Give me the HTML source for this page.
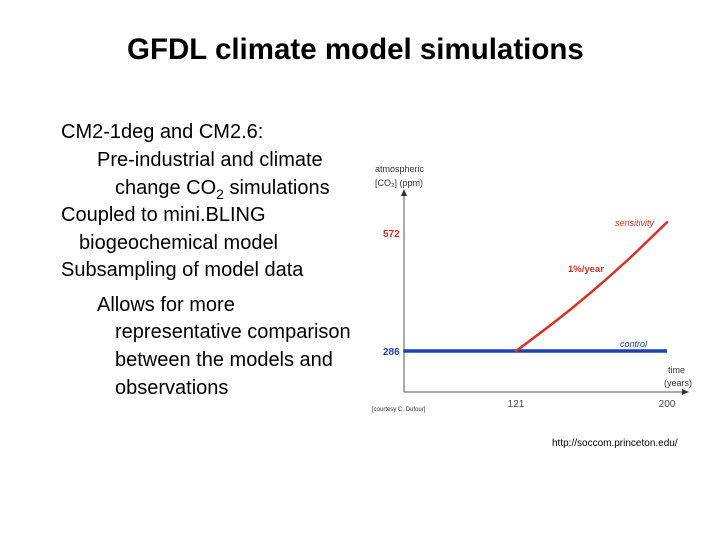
<!DOCTYPE html>
<html><head><meta charset="utf-8"><style>
body{margin:0;width:720px;height:540px;background:#fff;font-family:"Liberation Sans",Arial,sans-serif;position:relative;overflow:hidden}
.t{position:absolute;white-space:nowrap;color:#000}
.b{font-size:20px}
</style></head><body>
<div class="t" style="left:127px;top:33px;font-size:29.5px;font-weight:bold">GFDL climate model simulations</div>
<div>
<div class="t b" style="left:61px;top:121px">CM2-1deg and CM2.6:</div>
<div class="t b" style="left:97px;top:149px">Pre-industrial and climate</div>
<div class="t b" style="left:115px;top:177px">change CO<sub style="font-size:14px">2</sub> simulations</div>
<div class="t b" style="left:61px;top:204px">Coupled to mini.BLING</div>
<div class="t b" style="left:79px;top:232px">biogeochemical model</div>
<div class="t b" style="left:61px;top:259px">Subsampling of model data</div>
<div class="t b" style="left:97px;top:294px">Allows for more</div>
<div class="t b" style="left:115px;top:321px">representative comparison</div>
<div class="t b" style="left:115px;top:349px">between the models and</div>
<div class="t b" style="left:115px;top:377px">observations</div>
</div>
<div class="t" style="left:552px;top:438px;font-size:10px">http://soccom.princeton.edu/</div>
<svg id="chart" width="720" height="540" style="position:absolute;left:0;top:0" font-family="Liberation Sans, Arial, sans-serif"></svg>
<script>
const years=[121,140,160,180,200];
const sensVals=[286,352,427,509,598];
const ctrlYears=[62,200];
const ctrlVals=[286,286];
const xTicks=[121,200];
const yTicks=[286,572];
const x=t=>516+(t-121)*151/79;
const y=v=>351-(v-286)*118/286;
const svg=document.getElementById('chart');
const NS='http://www.w3.org/2000/svg';
function mk(tag,attrs,txt){const e=document.createElementNS(NS,tag);for(const k in attrs)e.setAttribute(k,attrs[k]);if(txt)e.textContent=txt;svg.appendChild(e);return e;}
let e;
e=mk('line',{x1:404,y1:392,x2:684,y2:392,stroke:'#555','stroke-width':1});


mk('polygon',{points:'689,392 682,389 682,395',fill:'#333'});
e=mk('line',{x1:404,y1:392,x2:404,y2:194,stroke:'#555','stroke-width':1});


mk('polygon',{points:'404,189 401,196 407,196',fill:'#333'});
e=mk('polyline',{points:ctrlYears.map((t,i)=>x(t)+','+y(ctrlVals[i])).join(' '),stroke:'#1f3fb5','stroke-width':3.5,fill:'none'});


const P=years.map((t,i)=>[x(t),y(sensVals[i])]);
let d='M'+P[0][0]+','+P[0][1];
for(let i=0;i<P.length-1;i++){
  const p0=P[Math.max(i-1,0)],p1=P[i],p2=P[i+1],p3=P[Math.min(i+2,P.length-1)];
  const c1=[p1[0]+(p2[0]-p0[0])/6,p1[1]+(p2[1]-p0[1])/6];
  const c2=[p2[0]-(p3[0]-p1[0])/6,p2[1]-(p3[1]-p1[1])/6];
  d+=' C'+c1.join(',')+' '+c2.join(',')+' '+p2.join(',');
}
e=mk('path',{d:d,stroke:'#d7301f','stroke-width':2.5,fill:'none','stroke-linecap':'round'});


xTicks.forEach(t=>{e=mk('text',{x:x(t),y:407,'font-size':10,fill:'#444','text-anchor':'middle'},String(t));

});
const ycol=['#1f3fb5','#d7301f'];
yTicks.forEach((v,i)=>{e=mk('text',{x:383,y:y(v)+4,'font-size':10,'font-weight':'bold',fill:ycol[i]},String(v));

});
e=mk('text',{x:375,y:172,'font-size':9,fill:'#333'},'atmospheric');


mk('text',{x:375,y:186,'font-size':9,fill:'#333'},'[CO\u2082] (ppm)');
e=mk('text',{x:668,y:373,'font-size':9,fill:'#333'},'time');


mk('text',{x:664,y:386,'font-size':9,fill:'#333'},'(years)');
e=mk('text',{x:615,y:226,'font-size':9,'font-style':'italic',fill:'#d7301f'},'sensitivity');


e=mk('text',{x:568,y:272,'font-size':9.5,'font-weight':'bold',fill:'#d7301f'},'1%/year');


e=mk('text',{x:620,y:347,'font-size':9,'font-style':'italic',fill:'#1f3fb5'},'control');


e=mk('text',{x:372,y:411,'font-size':6,fill:'#333'},'[courtesy C. Dufour]');


</script>
</body></html>
